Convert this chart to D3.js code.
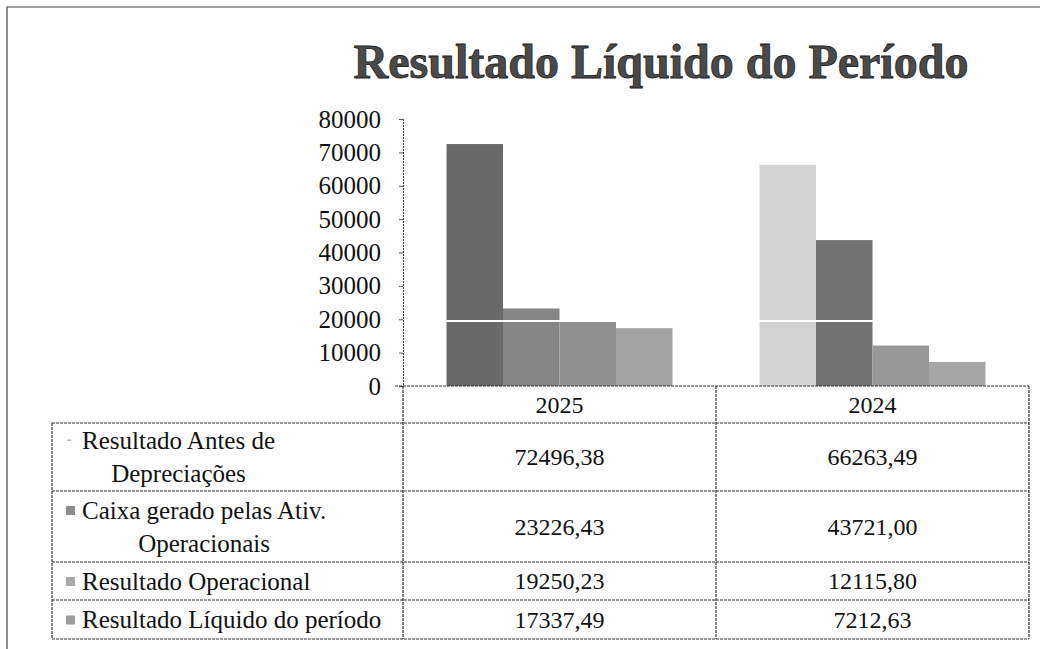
<!DOCTYPE html>
<html>
<head>
<meta charset="utf-8">
<script src="https://cdn.jsdelivr.net/npm/d3@7"></script>
<style>
  body { margin: 0; background: #fff; }
  svg text { font-family: "Liberation Serif", "Times New Roman", serif; fill: #111; }
</style>
</head>
<body>
<div class="chart"></div>
<script>
const years = ['2025', '2024'];
const series = [
  ['Resultado Antes de', 'Depreciações'],
  ['Caixa gerado pelas Ativ.', 'Operacionais'],
  ['Resultado Operacional'],
  ['Resultado Líquido do período']
];
// values per series, in the order of years
const values = [
  [72496.38, 66263.49],
  [23226.43, 43721.00],
  [19250.23, 12115.80],
  [17337.49, 7212.63]
];
const valueLabels = [
  ['72496,38', '66263,49'],
  ['23226,43', '43721,00'],
  ['19250,23', '12115,80'],
  ['17337,49', '7212,63']
];
const yTicks = [0, 10000, 20000, 30000, 40000, 50000, 60000, 70000, 80000];

// greys as they came out of the scan (per year, per series)
const barColors = {
  '2025': ['#6a6a6a', '#858585', '#8f8f8f', '#a2a2a2'],
  '2024': ['#d2d2d2', '#727272', '#979797', '#a6a6a6']
};
const keyColors = ['#b8b8b8', '#8c8c8c', '#a8a8a8', '#9c9c9c'];

const width = 1040;
const height = 649;

const svg = d3.select('.chart').append('svg')
  .attr('width', width)
  .attr('height', height);

// outer frame (left and top only, rest is cropped)
svg.append('path')
  .attr('d', 'M7,649 V7 H1040')
  .attr('fill', 'none')
  .attr('stroke', '#444')
  .attr('stroke-width', 1.2);

svg.append('text')
  .attr('x', 661)
  .attr('y', 78)
  .attr('text-anchor', 'middle')
  .attr('font-size', 48)
  .attr('font-weight', 'bold')
  .style('fill', '#4a4a4a')
  .attr('stroke', '#222')
  .attr('stroke-width', 0.8)
  .text('Resultado Líquido do Período');

const plotLeft = 403, plotRight = 1029, plotTop = 119, plotBottom = 386;

const y = d3.scaleLinear().domain([0, 80000]).range([plotBottom, plotTop]);
const x0 = d3.scaleBand().domain(years).range([plotLeft, plotRight]);
const x1 = d3.scaleBand().domain(d3.range(series.length))
  .range([0, x0.bandwidth()]).paddingOuter(0.77);

// bars
const groups = svg.selectAll('.year')
  .data(years)
  .enter()
  .append('g')
  .attr('class', 'year')
  .attr('transform', d=>`translate(${x0(d)},0)`);

groups.selectAll('rect')
  .data((yr, j)=>values.map((v, i)=>({yr, i, v: v[j]})))
  .enter()
  .append('rect')
  .attr('x', d=>x1(d.i))
  .attr('width', x1.bandwidth())
  .attr('y', d=>y(d.v))
  .attr('height', d=>plotBottom - y(d.v))
  .attr('fill', d=>barColors[d.yr][d.i]);

// scan line crossing the plot
svg.append('line')
  .attr('x1', 300).attr('x2', plotRight)
  .attr('y1', y(19500)).attr('y2', y(19500))
  .attr('stroke', '#fff')
  .attr('stroke-width', 2);

// y axis
const yAxis = d3.axisLeft(y).tickValues(yTicks).tickSize(4).tickPadding(18).tickFormat(d3.format('d'));
const ga = svg.append('g')
  .attr('transform', `translate(${plotLeft},0)`)
  .call(yAxis);
ga.select('.domain').attr('stroke', '#333').attr('stroke-dasharray', '2,1');
ga.selectAll('.tick line').attr('stroke', '#555');
ga.selectAll('.tick text')
  .attr('font-size', 25)
  .attr('font-family', '"Liberation Serif", serif')
  .style('fill', '#111');

// data table
const tableLeft = 52;
const rowEdges = [plotBottom, 423, 491, 562, 600, 639];
const lineColor = '#333';

const tbl = svg.append('g').attr('class', 'table');

// horizontal lines
tbl.selectAll('.hline')
  .data(rowEdges)
  .enter()
  .append('line')
  .attr('class', 'hline')
  .attr('x1', (d,i)=>i===0 ? plotLeft - 8 : tableLeft)
  .attr('x2', plotRight)
  .attr('y1', d=>d)
  .attr('y2', d=>d)
  .attr('stroke', lineColor)
  .attr('stroke-width', 1.2)
  .attr('stroke-dasharray', '3,1');

// vertical lines
const vlines = [
  {x: tableLeft, y1: rowEdges[1], y2: rowEdges[5]},
  {x: plotLeft, y1: rowEdges[0], y2: rowEdges[5]},
  {x: x0('2024'), y1: rowEdges[0], y2: rowEdges[5]},
  {x: plotRight, y1: rowEdges[0], y2: rowEdges[5]}
];
tbl.selectAll('.vline')
  .data(vlines)
  .enter()
  .append('line')
  .attr('class', 'vline')
  .attr('x1', d=>d.x).attr('x2', d=>d.x)
  .attr('y1', d=>d.y1).attr('y2', d=>d.y2)
  .attr('stroke', lineColor)
  .attr('stroke-width', 1.2)
  .attr('stroke-dasharray', '3,1');

// header
tbl.selectAll('.yearLabel')
  .data(years)
  .enter()
  .append('text')
  .attr('class', 'yearLabel')
  .attr('x', d=>x0(d) + x0.bandwidth()/2)
  .attr('y', (rowEdges[0] + rowEdges[1])/2)
  .attr('dy', '0.35em')
  .attr('text-anchor', 'middle')
  .attr('font-size', 24)
  .text(d=>d);

// values
values.forEach((row, i)=>{
  tbl.selectAll('.val' + i)
    .data(years)
    .enter()
    .append('text')
    .attr('x', d=>x0(d) + x0.bandwidth()/2)
    .attr('y', (rowEdges[i+1] + rowEdges[i+2])/2)
    .attr('dy', '0.35em')
    .attr('text-anchor', 'middle')
    .attr('font-size', 24)
    .text((d, j)=>valueLabels[i][j]);
});

// row labels with legend keys
series.forEach((lines, i)=>{
  const top = rowEdges[i+1], bottom = rowEdges[i+2];
  const mid = (top + bottom)/2;
  const lh = 33;
  const firstY = mid - (lines.length - 1)*lh/2;
  const t0 = tbl.append('text')
    .attr('x', 82)
    .attr('y', firstY)
    .attr('dy', '0.35em')
    .attr('font-size', 25)
    .text(lines[0]);
  const w0 = t0.node().getComputedTextLength();
  lines.slice(1).forEach((ln, k)=>{
    tbl.append('text')
      .attr('x', 82 + w0/2)
      .attr('y', firstY + (k+1)*lh)
      .attr('dy', '0.35em')
      .attr('text-anchor', 'middle')
      .attr('font-size', 25)
      .text(ln);
  });
  if (i === 0) {
    tbl.append('rect')
      .attr('x', 67).attr('y', firstY - 1)
      .attr('width', 4).attr('height', 1.5)
      .attr('fill', keyColors[i]);
  } else {
    tbl.append('rect')
      .attr('x', 66).attr('y', firstY - 4)
      .attr('width', 9).attr('height', 9)
      .attr('fill', keyColors[i]);
  }
});
</script>
</body>
</html>
